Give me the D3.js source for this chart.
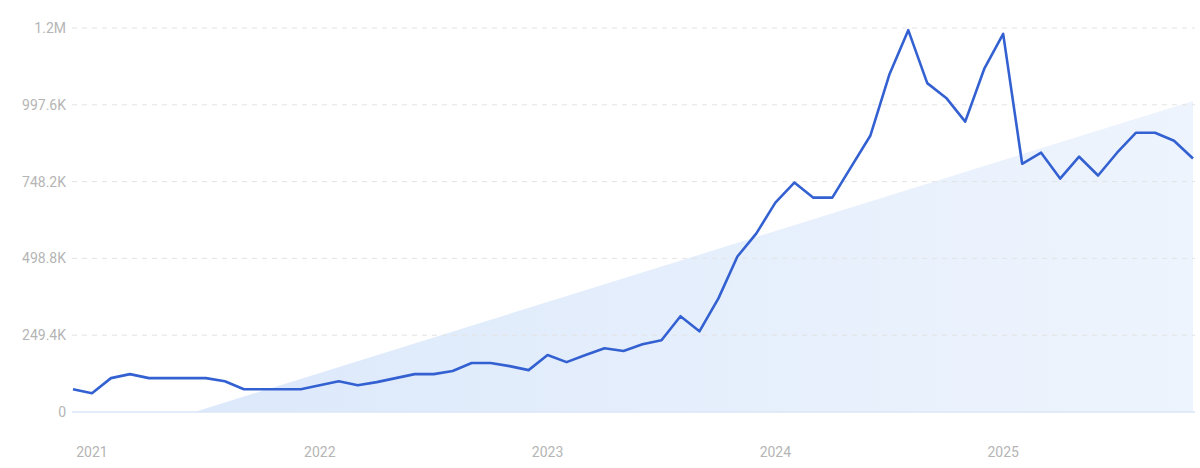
<!DOCTYPE html>
<html><head><meta charset="utf-8">
<script src="https://cdn.jsdelivr.net/npm/d3@7"></script>
<style>body{margin:0;background:#fff}svg{display:block}</style>
</head><body>
<svg id="c" width="1200" height="468"></svg>
<script>
const months = d3.range(60); // Dec 2020 .. Nov 2025
const values = [74000,61000,110000,123000,110000,110000,110000,110000,100000,74000,74000,74000,74000,87000,100000,87000,97000,110000,123000,123000,133000,159000,159000,149000,136000,185000,162000,185000,207000,198000,220000,233000,311000,262000,369000,505000,580000,680000,745000,696000,696000,797000,897000,1095000,1240000,1068000,1020000,943000,1114000,1228000,806000,842000,758000,829000,768000,842000,907000,907000,881000,823000];
const yTicks = [0,249400,498800,748200,997600,1247000];
const yTickLabels = ["0","249.4K","498.8K","748.2K","997.6K","1.2M"];
const xTickIdx = [1,13,25,37,49];
const xTickLabels = ["2021","2022","2023","2024","2025"];
const trendStartIdx = 6.4, trendEndIdx = 59, trendEndValue = 1010000;

const svg = d3.select("#c");
const x = d3.scaleLinear().domain([0,59]).range([73,1193]);
const y = d3.scaleLinear().domain([0,1247000]).range([412,28]);

const defs = svg.append("defs");
const g = defs.append("linearGradient").attr("id","tg").attr("x1","0").attr("x2","1").attr("y1","0").attr("y2","0");
g.append("stop").attr("offset","0").attr("stop-color","#dce9fb");
g.append("stop").attr("offset","1").attr("stop-color","#eef4fd");

svg.append("path")
  .attr("d", d3.area().x(d=>x(d[0])).y0(y(0)).y1(d=>y(d[1]))([[trendStartIdx,0],[trendEndIdx,trendEndValue]]))
  .attr("fill","url(#tg)");

yTicks.forEach((t,i)=>{
  if(i>0) svg.append("line").attr("x1",72).attr("x2",1195).attr("y1",y(t)).attr("y2",y(t))
    .attr("stroke","#e3e3e3").attr("stroke-dasharray","5,5");
  svg.append("text").attr("x",66).attr("y",y(t)+5).attr("text-anchor","end")
    .attr("font-family","Roboto, sans-serif").attr("font-size",14).attr("fill","#b5b5b5").text(yTickLabels[i]);
});
svg.append("line").attr("x1",72).attr("x2",1195).attr("y1",y(0)).attr("y2",y(0)).attr("stroke","#dbe6f7").attr("stroke-width",1.5);

xTickIdx.forEach((m,i)=>{
  svg.append("text").attr("x",x(m)).attr("y",457).attr("text-anchor","middle")
    .attr("font-family","Roboto, sans-serif").attr("font-size",14).attr("fill","#b5b5b5").text(xTickLabels[i]);
});

svg.append("path").datum(months)
  .attr("d", d3.line().x(i=>x(i)).y(i=>y(values[i])))
  .attr("fill","none").attr("stroke","#3461d1").attr("stroke-width",2.6).attr("stroke-linejoin","round");
</script>
</body></html>
